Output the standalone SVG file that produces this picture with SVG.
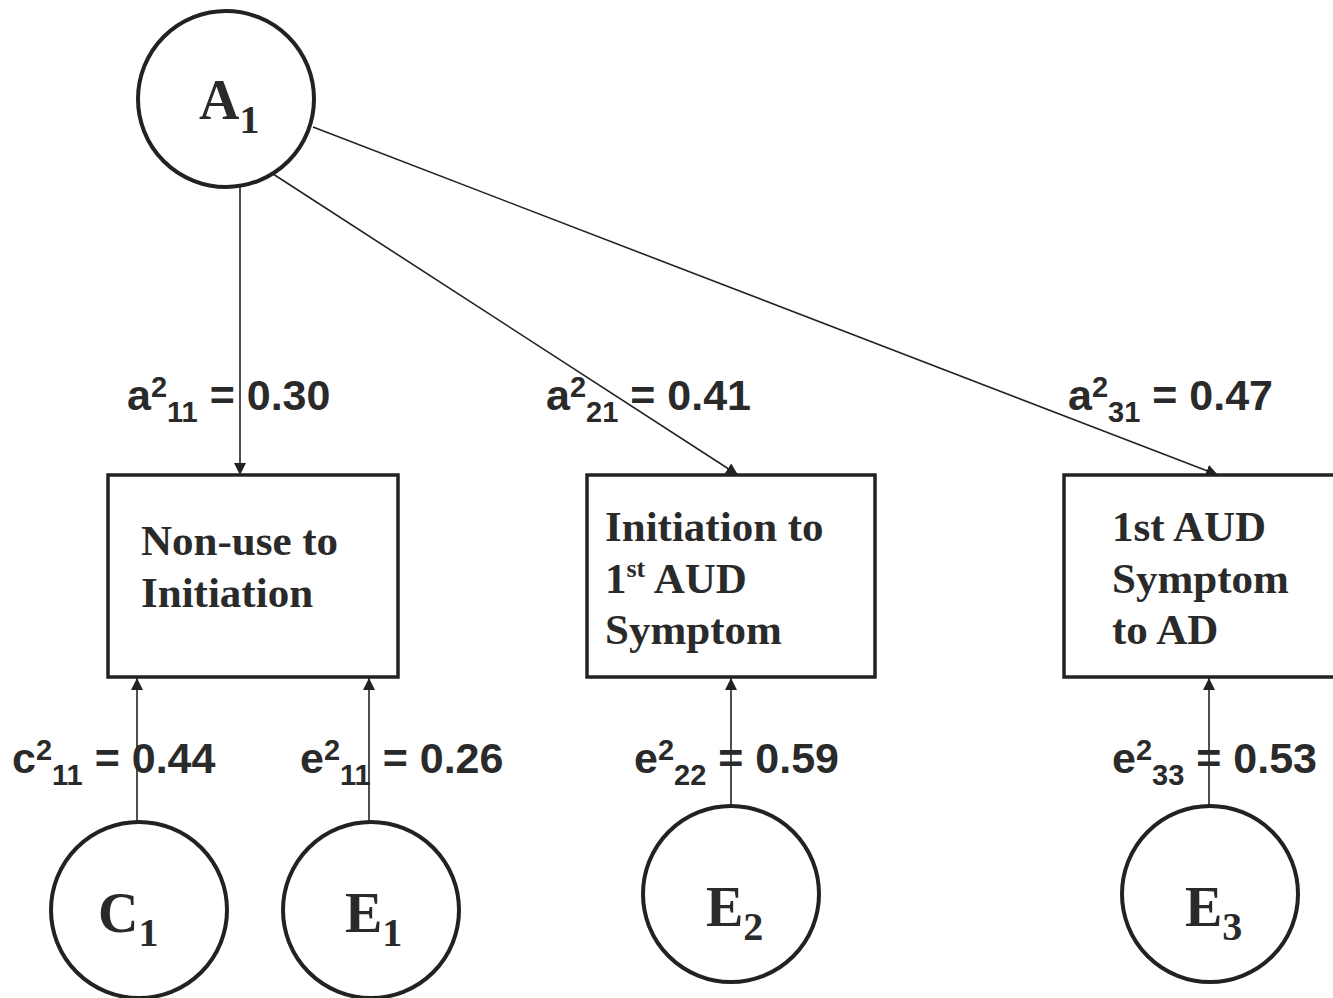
<svg xmlns="http://www.w3.org/2000/svg" width="1333" height="998" viewBox="0 0 1333 998">
<style>
.node{fill:#fff;stroke:#222;stroke-width:4}
.box{fill:#fff;stroke:#222;stroke-width:3.5}
.lbl{font-family:"Liberation Serif","Times New Roman",serif;font-weight:bold;fill:#2a2a2a}
.big{font-size:56px}
.sub{font-size:40px}
.btxt{font-size:43px}
.coef{font-family:"Liberation Sans",Arial,sans-serif;font-weight:bold;font-size:43px;fill:#2a2a2a}
.s{font-size:29px}
.edge{stroke:#222;stroke-width:1.6;fill:none;marker-end:url(#arr)}
</style>
<defs>
<marker id="arr" viewBox="0 0 12 12" refX="12" refY="6" markerWidth="12" markerHeight="12" markerUnits="userSpaceOnUse" orient="auto">
<path d="M0,0 L12,6 L0,12 Z" fill="#222"/>
</marker>
</defs>
<rect width="1333" height="998" fill="#fff"/>
<g id="connectors">
<line class="edge" x1="240" y1="186" x2="240" y2="475"/>
<line class="edge" x1="270" y1="172" x2="738" y2="475"/>
<line class="edge" x1="313" y1="127" x2="1218" y2="475"/>
<line class="edge" x1="137" y1="822" x2="137" y2="678"/>
<line class="edge" x1="369" y1="822" x2="369" y2="678"/>
<line class="edge" x1="731" y1="805" x2="731" y2="678"/>
<line class="edge" x1="1209" y1="805" x2="1209" y2="678"/>
</g>
<g id="labels">
<text class="coef" x="127" y="410">a<tspan class="s" dy="-13">2</tspan><tspan class="s" dy="25">11</tspan><tspan dy="-12"> = 0.30</tspan></text>
<text class="coef" x="546" y="410">a<tspan class="s" dy="-13">2</tspan><tspan class="s" dy="25">21</tspan><tspan dy="-12"> = 0.41</tspan></text>
<text class="coef" x="1068" y="410">a<tspan class="s" dy="-13">2</tspan><tspan class="s" dy="25">31</tspan><tspan dy="-12"> = 0.47</tspan></text>
<text class="coef" x="12" y="773">c<tspan class="s" dy="-13">2</tspan><tspan class="s" dy="25">11</tspan><tspan dy="-12"> = 0.44</tspan></text>
<text class="coef" x="300" y="773">e<tspan class="s" dy="-13">2</tspan><tspan class="s" dy="25">11</tspan><tspan dy="-12"> = 0.26</tspan></text>
<text class="coef" x="634" y="773">e<tspan class="s" dy="-13">2</tspan><tspan class="s" dy="25">22</tspan><tspan dy="-12"> = 0.59</tspan></text>
<text class="coef" x="1112" y="773">e<tspan class="s" dy="-13">2</tspan><tspan class="s" dy="25">33</tspan><tspan dy="-12"> = 0.53</tspan></text>
</g>
<g id="A1">
<circle class="node" cx="226" cy="99" r="88"/>
<text class="lbl big" x="199" y="119">A<tspan class="sub" dy="14">1</tspan></text>
</g>
<g id="box1">
<rect class="box" x="108" y="475" width="290" height="202"/>
<text class="lbl btxt" x="141" y="555">Non-use to</text>
<text class="lbl btxt" x="141" y="607">Initiation</text>
</g>
<g id="box2">
<rect class="box" x="587" y="475" width="288" height="202"/>
<text class="lbl btxt" x="605" y="541">Initiation to</text>
<text class="lbl btxt" x="605" y="593">1<tspan font-size="26px" dy="-16">st</tspan><tspan dy="16"> AUD</tspan></text>
<text class="lbl btxt" x="605" y="644">Symptom</text>
</g>
<g id="box3">
<rect class="box" x="1064" y="475" width="275" height="202"/>
<text class="lbl btxt" x="1112" y="541">1st AUD</text>
<text class="lbl btxt" x="1112" y="593">Symptom</text>
<text class="lbl btxt" x="1112" y="644">to AD</text>
</g>
<g id="C1">
<circle class="node" cx="139" cy="910" r="88"/>
<text class="lbl big" x="98" y="932">C<tspan class="sub" dy="14">1</tspan></text>
</g>
<g id="E1">
<circle class="node" cx="371" cy="910" r="88"/>
<text class="lbl big" x="345" y="932">E<tspan class="sub" dy="14">1</tspan></text>
</g>
<g id="E2">
<circle class="node" cx="731" cy="894" r="88"/>
<text class="lbl big" x="706" y="926">E<tspan class="sub" dy="14">2</tspan></text>
</g>
<g id="E3">
<circle class="node" cx="1210" cy="894" r="88"/>
<text class="lbl big" x="1185" y="926">E<tspan class="sub" dy="14">3</tspan></text>
</g>
</svg>
